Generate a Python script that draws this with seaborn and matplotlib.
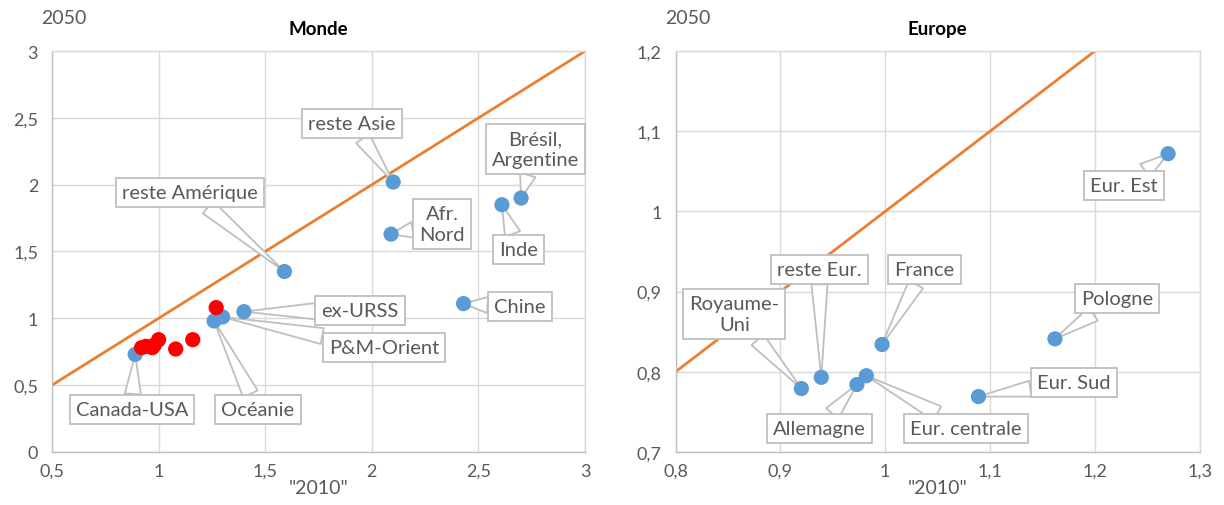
import matplotlib
matplotlib.use("Agg")
import matplotlib.pyplot as plt
import seaborn as sns
import pandas as pd

# ---- data: Monde ----
world_names = ["reste Asie", "Brésil,\nArgentine", "Inde", "Afr.\nNord", "reste Amérique",
               "Chine", "ex-URSS", "P&M-Orient", "Océanie", "Canada-USA"]
world_x = [2.10, 2.70, 2.61, 2.09, 1.59, 2.43, 1.40, 1.30, 1.26, 0.89]
world_y = [2.02, 1.90, 1.85, 1.63, 1.35, 1.11, 1.05, 1.01, 0.98, 0.73]
world_label_x = [1.907, 2.766, 2.686, 2.33, 1.147, 2.695, 1.945, 2.057, 1.466, 0.875]
world_label_y = [2.46, 2.266, 1.518, 1.705, 1.945, 1.085, 1.055, 0.778, 0.32, 0.32]
red_x = [0.92, 0.94, 0.97, 0.98, 1.00, 1.08, 1.16, 1.27]
red_y = [0.78, 0.79, 0.78, 0.80, 0.84, 0.77, 0.84, 1.08]

# ---- data: Europe ----
eu_names = ["Eur. Est", "Pologne", "France", "reste Eur.", "Royaume-\nUni",
            "Allemagne", "Eur. centrale", "Eur. Sud"]
eu_x = [1.27, 1.162, 0.997, 0.939, 0.920, 0.973, 0.982, 1.089]
eu_y = [1.072, 0.841, 0.834, 0.793, 0.779, 0.784, 0.795, 0.769]
eu_label_x = [1.228, 1.221, 1.0376, 0.937, 0.856, 0.937, 1.077, 1.18]
eu_label_y = [1.032, 0.891, 0.928, 0.928, 0.872, 0.729, 0.729, 0.787]

world_ticks_x = [0.5, 1, 1.5, 2, 2.5, 3]
world_ticks_y = [0, 0.5, 1, 1.5, 2, 2.5, 3]
eu_ticks_x = [0.8, 0.9, 1.0, 1.1, 1.2, 1.3]
eu_ticks_y = [0.7, 0.8, 0.9, 1.0, 1.1, 1.2]

sns.set_theme(style="whitegrid")
plt.rcParams['font.family'] = ['Lato', 'DejaVu Sans']

BLUE = "#5B9BD5"
RED = "#FF0000"
ORANGE = "#ED7D31"
GRID = "#D9D9D9"
TXT = "#595959"

fig = plt.figure(figsize=(12.24, 5.06), dpi=100)
ax1 = fig.add_axes([0.0425, 0.105, 0.4355, 0.792])
ax2 = fig.add_axes([0.552, 0.105, 0.428, 0.792])


def fmt(v):
    return ("%g" % v).replace(".", ",")


def style(ax, xt, yt, title):
    ax.set_xlim(xt[0], xt[-1])
    ax.set_ylim(yt[0], yt[-1])
    ax.set_xticks(xt)
    ax.set_yticks(yt)
    ax.set_xticklabels([fmt(v) for v in xt], color=TXT, fontsize=13)
    ax.set_yticklabels([fmt(v) for v in yt], color=TXT, fontsize=13)
    ax.tick_params(axis="x", length=0, pad=8)
    ax.tick_params(axis="y", length=0, pad=10)
    ax.grid(True, color=GRID, lw=1)
    for s in ax.spines.values():
        s.set_color(GRID)
        s.set_linewidth(1)
    ax.spines["bottom"].set_color("#BFBFBF")
    ax.spines["left"].set_color("#BFBFBF")
    ax.set_facecolor("white")
    ax.set_title(title, fontsize=13.5, fontweight="bold", color="black", pad=12)
    ax.set_xlabel('"2010"', color=TXT, fontsize=14, labelpad=0)
    ax.set_ylabel("")
    ax.text(-0.02, 1.085, "2050", transform=ax.transAxes, color=TXT, fontsize=14,
            ha="left", va="center")


def callouts(ax, names, xs, ys, lx, ly):
    for n, x, y, tx, ty in zip(names, xs, ys, lx, ly):
        ax.annotate(n, xy=(x, y), xytext=(tx, ty), textcoords="data",
                    ha="center", va="center", fontsize=14.5, color=TXT,
                    linespacing=1.3, zorder=5,
                    bbox=dict(boxstyle="square,pad=0.3", fc="white", ec="#BFBFBF", lw=1.3),
                    arrowprops=dict(arrowstyle="wedge,tail_width=0.8,shrink_factor=0.5",
                                    fc="white", ec="#BFBFBF", lw=1.3,
                                    shrinkA=0, shrinkB=0))


# Monde
diag_w = pd.DataFrame({"x": [0.5, 3.0], "y": [0.5, 3.0]})
sns.lineplot(data=diag_w, x="x", y="y", ax=ax1, color=ORANGE, lw=2, zorder=2)
sns.scatterplot(x=world_x, y=world_y, ax=ax1, color=BLUE, s=120, edgecolor="none", zorder=6)
sns.scatterplot(x=red_x, y=red_y, ax=ax1, color=RED, s=120, edgecolor="none", zorder=6)
style(ax1, world_ticks_x, world_ticks_y, "Monde")
callouts(ax1, world_names, world_x, world_y, world_label_x, world_label_y)

# Europe
diag_e = pd.DataFrame({"x": [0.8, 1.2], "y": [0.8, 1.2]})
sns.lineplot(data=diag_e, x="x", y="y", ax=ax2, color=ORANGE, lw=2, zorder=2)
sns.scatterplot(x=eu_x, y=eu_y, ax=ax2, color=BLUE, s=120, edgecolor="none", zorder=6)
style(ax2, eu_ticks_x, eu_ticks_y, "Europe")
callouts(ax2, eu_names, eu_x, eu_y, eu_label_x, eu_label_y)

fig.savefig("out.png", dpi=100, facecolor="white")
